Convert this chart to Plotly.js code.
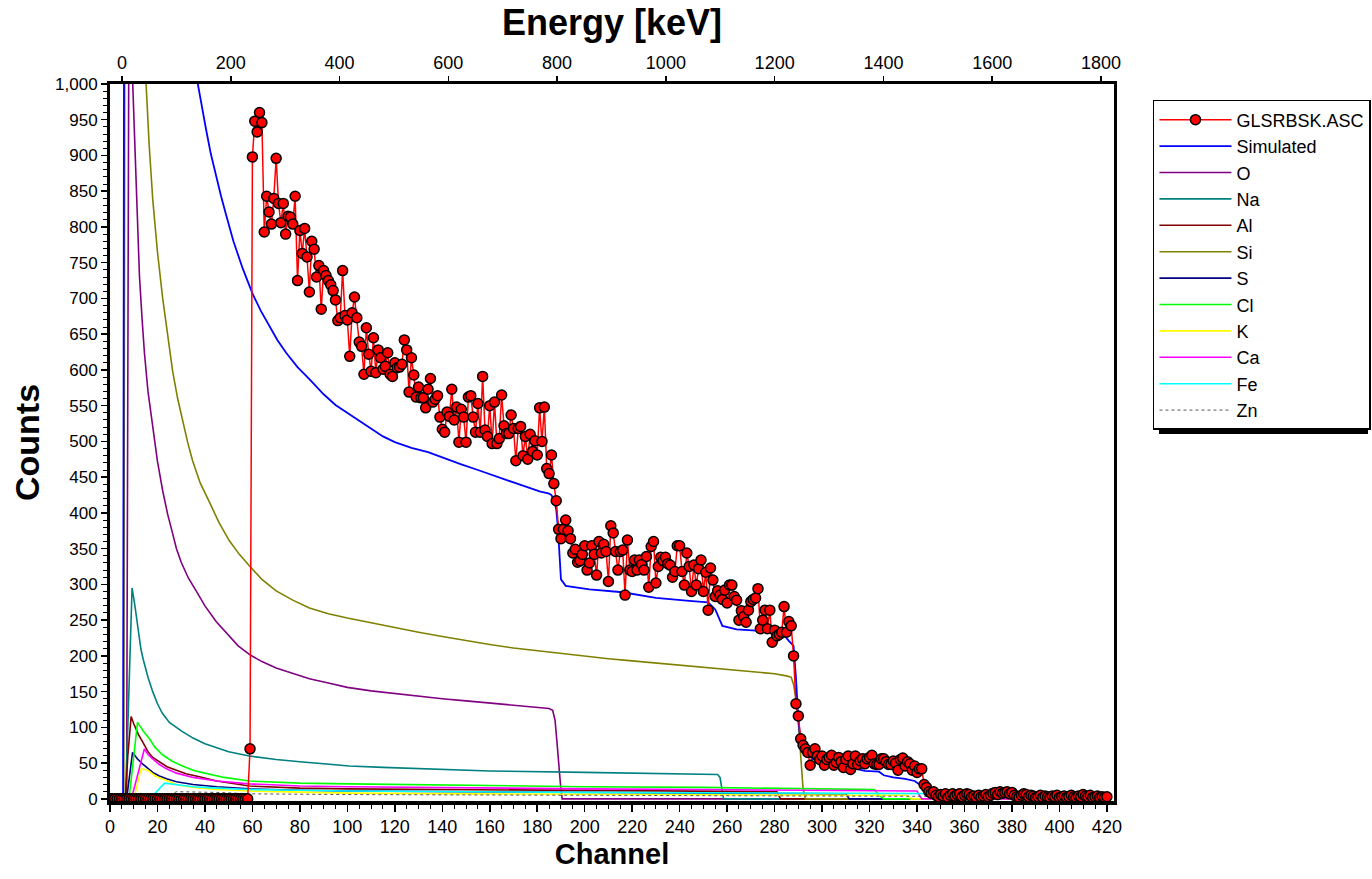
<!DOCTYPE html>
<html>
<head>
<meta charset="utf-8">
<script src="https://cdn.plot.ly/plotly-3.0.1.min.js"></script>
<style>html,body{margin:0;padding:0;background:#fff;}#chart{width:1372px;height:879px;}</style>
</head>
<body>
<div id="chart"></div>
<script>
// Experimental spectrum GLSRBSK.ASC, one value per channel starting at channel 0
const expCounts = [
  0,0,0,0,0,0,0,0,0,0,            // 0-9
  0,0,0,0,0,0,0,0,0,0,            // 10-19
  0,0,0,0,0,0,0,0,0,0,            // 20-29
  0,0,0,0,0,0,0,0,0,0,            // 30-39
  0,0,0,0,0,0,0,0,0,0,            // 40-49
  0,0,0,0,0,0,0,0,0,70,           // 50-59
  898,948,933,960,946,793,843,821,804,840, // 60-69
  896,833,806,833,790,815,814,804,843,725, // 70-79
  795,763,798,758,709,780,769,730,746,685, // 80-89
  739,732,725,719,711,698,669,673,739,676, // 90-99
  670,619,680,702,673,639,633,594,659,622, // 100-109
  598,645,596,628,617,601,605,624,594,591, // 110-119
  610,603,604,608,642,628,569,617,593,562, // 120-129
  576,561,561,547,573,588,555,559,564,534, // 130-139
  517,513,541,535,573,530,548,499,545,534, // 140-149
  499,562,564,534,513,553,513,591,516,507, // 150-159
  550,497,555,497,504,565,522,511,511,537, // 160-169
  518,473,518,521,480,507,475,510,486,501, // 170-179
  481,547,500,548,462,455,481,441,417,377, // 180-189
  364,377,390,375,364,344,349,331,333,342, // 190-199
  354,320,330,354,342,313,360,344,356,346, // 200-209
  304,382,372,346,320,346,348,285,362,320, // 210-219
  318,334,320,334,328,320,339,296,353,360, // 220-229
  302,325,338,333,338,329,327,310,318,354, // 230-239
  354,318,299,344,325,290,327,299,322,334, // 240-249
  290,317,264,323,306,283,291,285,279,292, // 250-259
  274,299,299,283,278,250,263,255,247,264, // 260-269
  276,279,281,294,238,250,264,238,264,219, // 270-279
  236,228,230,233,269,233,248,242,200,133, // 280-289
  116,84,75,70,65,47,65,70,60,55,          // 290-299
  60,47,55,58,61,47,51,58,52,44,           // 300-309
  55,60,41,49,60,48,53,56,49,56,           // 310-319
  58,61,49,48,48,56,56,52,48,48,           // 320-329
  53,50,40,55,57,46,52,49,40,46,           // 330-339
  37,42,42,20,16,10,8,10,5,3,              // 340-349
  6,4,7,2,5,7,4,6,7,3,                     // 350-359
  5,7,6,3,4,2,5,3,4,6,                     // 360-369
  3,5,8,9,6,10,8,9,10,7,                   // 370-379
  9,5,3,2,5,7,6,3,5,4,                     // 380-389
  2,3,5,2,4,3,2,4,3,5,                     // 390-399
  2,3,4,2,3,5,3,2,4,3,                     // 400-409
  6,4,3,5,2,3,4,2,3,2,3                    // 410-420
];

// Simulated total spectrum
const simCh  = [0,5.5,6,36,37,38.5,40.5,42.5,44.7,46.8,48.9,52,55.9,60,63.5,67.1,70.5,74.2,79,84,90,95,100,105,110,115,120,127,134,141,148,155,162,169,176,181,185,186,187,188,188.7,189.3,190,192,202,216,230,244,252,255,258,264,272,283,286,288,289,290,291,293,296,300,305,310,315,318,324,326,330,335,339,342,344,346,360,380,383,386,400,405,420];
const simVal = [0,0,1300,1300,1000,970,936,902,871,843,817,780,742,707,683,662,642,624,604,587,566,551,540,528,517,507,499,491,485,476,468,460,452,444,436,430,427,425,418,405,380,340,307,298,293,289,281,277,275,265,242,237,235,233,221,214,170,110,80,68,56,53,49,45,41,39,38,33,30,28,25,18,11,9,8,8,4,2,1,0,0];

// Element partial spectra
const oCh  = [0,7,8,9.5,10.5,11.5,12.4,13.5,14.5,16,18,20,22.2,24.3,26.4,28,30,33,36.3,40,44.7,50,54,58.7,64,70,77,84,92,100,110,120,130,140,150,160,170,180,185,186.5,187.5,188.3,189,189.8,190.5,420];
const oVal = [0,0,1150,1000,893,805,732,672,624,570,517,472,431,398,371,350,331,309,291,270,248,228,214,202,192,183,175,168,162,156,151,147,143,140,137,134,131,128,126.5,124,110,80,50,20,0,0];
const naCh  = [0,6.5,7.5,9.3,10.5,12,13,14,16,18,20,22,25,30.5,35,40,50,58.7,70,80,90,100.8,115,130,160,200,230,256,257,258.5,420];
const naVal = [0,0,100,295,270,230,210,195,170,150,133,120,107,94,85,77,66,60,55,52,49,46,44,42,39,37,35,34,30,0,0];
const alCh  = [0,6.5,7.5,8.9,10,12,13.7,16,18,20.8,24,28,32,37.7,45,58.7,70,80,100,140,180,220,260,281,282.5,420];
const alVal = [0,0,60,115,105,90,80,66,58,52,45,40,35,31,25,18,16,15,14,13,12,11,10,10,0,0];
const siCh  = [0,5.8,6.3,14,15.2,16.5,18,20,22.2,24.3,26.4,28.5,30.6,32.7,34.8,38,41.9,46,50.3,54.5,58.7,64,70,77,84,92,100,110,120,130,140,150,160,170,180,190,200,210,220,230,240,250,260,270,280,285,287,288,289,290,291,292,293,420];
const siVal = [0,0,1300,1300,1000,915,839,765,700,645,598,560,528,499,473,442,415,386,361,342,326,307,291,278,267,259,253,246,240,233,227,221,216,211,207,203,199,196,193,190,187,184,181,178,175,172,170,160,140,107,60,14,0,0];
const sCh  = [0,7,9.5,11.5,13.7,16,18,20.8,23.8,28,35,45,58.7,80,100,150,200,250,300,310,311.5,420];
const sVal = [0,0,65,56,49,42,37,32,28,24,20,17,14,12,11,10,9,8,7,7,0,0];
const clCh  = [0,8,11.6,14,16.6,19,22,26,30.5,35,40,48,58.7,80,100.8,150,200,250,300,322,324,326,420];
const clVal = [0,0,107,95,84,72,62,53,46,40,36,30,25,22,21,19,17,16,14,13,5,0,0];
const kCh  = [0,10,13.1,16,19,23.8,28,35,45,58.7,80,100,150,200,250,300,336,337.5,420];
const kVal = [0,0,42,40,32,25,20,16,13,11,9,8,7,6,5,5,5,0,0];
const caCh  = [0,9,14.5,16,18,20.8,23.8,28,35,45,58.7,80,100.8,150,200,250,300,340,341,342,420];
const caVal = [0,0,70,62,56,48,42,36,30,25,21,18,17,15,14,13,12,11,5,0,0];
const feCh  = [0,16.8,23,26,35,45,58.7,80,100,200,300,380,382,420];
const feVal = [0,0,22,21,17,15,13,12,11,9,8,7,0,0];
const znCh  = [0,22,28,45,60,100,200,300,395,398,420];
const znVal = [0,0,10,9,7,6,5,4,3,0,0];

const elements = [
  {name:'O',  x:oCh,  y:oVal,  color:'#800080'},
  {name:'Na', x:naCh, y:naVal, color:'#008080'},
  {name:'Al', x:alCh, y:alVal, color:'#800000'},
  {name:'Si', x:siCh, y:siVal, color:'#808000'},
  {name:'S',  x:sCh,  y:sVal,  color:'#000080'},
  {name:'Cl', x:clCh, y:clVal, color:'#00ff00'},
  {name:'K',  x:kCh,  y:kVal,  color:'#ffff00'},
  {name:'Ca', x:caCh, y:caVal, color:'#ff00ff'},
  {name:'Fe', x:feCh, y:feVal, color:'#00ffff'},
  {name:'Zn', x:znCh, y:znVal, color:'#555555', dash:'dot'}
];

const FONT = '"Liberation Sans", Arial, sans-serif';
const traces = [];
elements.forEach((e, i) => {
  traces.push({
    type:'scatter', mode:'lines', name:e.name, x:e.x, y:e.y,
    line:{color:e.color, width:e.dash ? 1 : 1.6, dash:e.dash || 'solid'},
    legendrank: 3 + i, hoverinfo:'skip'
  });
});
traces.push({
  type:'scatter', mode:'lines', name:'Simulated', x:simCh, y:simVal,
  line:{color:'#0000ff', width:1.8}, legendrank:2, hoverinfo:'skip'
});
traces.push({
  type:'scatter', mode:'lines+markers', name:'GLSRBSK.ASC', x0:0, dx:1, y:expCounts,
  line:{color:'#ff0000', width:1.5},
  marker:{color:'#ff0000', size:10, line:{color:'#000000', width:1.5}},
  legendrank:1, hoverinfo:'skip'
});
// carrier for the energy axis on top
traces.push({type:'scatter', mode:'lines', x:[], y:[], xaxis:'x2', yaxis:'y', showlegend:false, hoverinfo:'skip'});

const layout = {
  width:1372, height:879,
  margin:{l:110, r:258, t:84, b:78, autoexpand:false},
  paper_bgcolor:'#ffffff', plot_bgcolor:'#ffffff',
  font:{family:FONT, color:'#000', size:17},
  showlegend:true,
  legend:{
    x:1.0388, y:0.9777, xanchor:'left', yanchor:'top',
    bgcolor:'#ffffff', bordercolor:'#000000', borderwidth:1.5,
    font:{family:FONT, size:18, color:'#000'},
    itemwidth:72, tracegroupgap:0
  },
  xaxis:{
    range:[0, 423], showgrid:false, zeroline:false,
    showline:true, linecolor:'#000', linewidth:3.5, mirror:true,
    ticks:'outside', ticklen:7, tickwidth:1.5, tickcolor:'#000',
    dtick:20, tick0:0,
    minor:{dtick:5, ticks:'outside', ticklen:4, tickwidth:1, tickcolor:'#000'},
    tickfont:{family:FONT, size:18},
    title:{text:'Channel', font:{family:FONT, size:29, weight:'bold'}, standoff:8}
  },
  xaxis2:{
    overlaying:'x', side:'top', anchor:'y',
    range:[-22.1, 1824], showgrid:false, zeroline:false, showline:false,
    ticks:'outside', ticklen:7, tickwidth:1.5, tickcolor:'#000',
    dtick:200, tick0:0,
    tickfont:{family:FONT, size:18},
    title:{text:'Energy [keV]', font:{family:FONT, size:36, weight:'bold'}, standoff:6}
  },
  yaxis:{
    range:[-3, 1000], showgrid:false, zeroline:false,
    showline:true, linecolor:'#000', linewidth:3, mirror:true,
    ticks:'outside', ticklen:6, tickwidth:1.5, tickcolor:'#000',
    dtick:50, tick0:0, tickformat:',d',
    minor:{dtick:10, ticks:'outside', ticklen:4, tickwidth:1, tickcolor:'#000'},
    tickfont:{family:FONT, size:17},
    title:{text:'Counts', font:{family:FONT, size:34, weight:'bold'}, standoff:6}
  },
  shapes:[{
    type:'rect', xref:'paper', yref:'paper',
    x0:1.0448, x1:1.2530, y0:0.5119, y1:0.9693,
    fillcolor:'#000000', line:{width:0}, layer:'below'
  }]
};

Plotly.newPlot('chart', traces, layout, {displayModeBar:false, staticPlot:true});
</script>
</body>
</html>
